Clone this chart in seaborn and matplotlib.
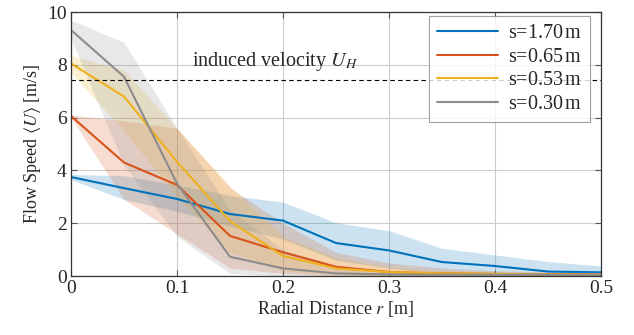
import numpy as np
import pandas as pd
import seaborn as sns
import matplotlib.pyplot as plt

# radial positions [m]
r = [0, 0.05, 0.1, 0.15, 0.2, 0.25, 0.3, 0.35, 0.4, 0.45, 0.5]

# mean flow speed per distance s
u_170 = [3.75, 3.33, 2.92, 2.35, 2.1, 1.25, 0.97, 0.53, 0.38, 0.17, 0.14]
u_065 = [6.06, 4.3, 3.45, 1.52, 0.9, 0.35, 0.15, 0.1, 0.08, 0.06, 0.05]
u_053 = [8.05, 6.8, 4.33, 2.08, 0.76, 0.29, 0.15, 0.1, 0.08, 0.06, 0.05]
u_030 = [9.32, 7.55, 3.5, 0.73, 0.29, 0.1, 0.06, 0.05, 0.05, 0.05, 0.05]

# shaded spread (upper / lower)
hi_170 = [3.85, 3.8, 3.45, 3.05, 2.8, 2.02, 1.72, 1.05, 0.8, 0.55, 0.38]
lo_170 = [3.65, 2.9, 2.45, 1.9, 1.4, 0.6, 0.3, 0.1, 0.02, 0.0, 0.0]
hi_065 = [6.1, 5.88, 5.6, 3.35, 2.0, 0.9, 0.5, 0.3, 0.2, 0.15, 0.12]
lo_065 = [6.0, 2.9, 1.6, 0.3, 0.1, 0.0, 0.0, 0.0, 0.0, 0.0, 0.0]
hi_053 = [8.35, 7.8, 5.6, 3.4, 1.5, 0.7, 0.35, 0.2, 0.15, 0.12, 0.1]
lo_053 = [7.7, 5.5, 3.0, 0.9, 0.2, 0.05, 0.0, 0.0, 0.0, 0.0, 0.0]
hi_030 = [9.7, 8.85, 5.6, 2.5, 1.0, 0.4, 0.2, 0.12, 0.1, 0.1, 0.1]
lo_030 = [9.0, 4.2, 1.5, 0.1, 0.0, 0.0, 0.0, 0.0, 0.0, 0.0, 0.0]

labels = ['s=1.70$\\,$m', 's=0.65$\\,$m', 's=0.53$\\,$m', 's=0.30$\\,$m']
colors = ['#0072BD', '#D95319', '#EDB120', '#8C8C8C']
u_H = 7.42

sns.set_style('ticks')
plt.rcParams['font.family'] = ['Liberation Serif', 'DejaVu Serif']
plt.rcParams['mathtext.fontset'] = 'stix'
plt.rcParams['font.size'] = 13

means = [u_170, u_065, u_053, u_030]
his = [hi_170, hi_065, hi_053, hi_030]
los = [lo_170, lo_065, lo_053, lo_030]

df = pd.concat([pd.DataFrame({'r': r, 'u': m, 's': lab}) for m, lab in zip(means, labels)])

fig = plt.figure(figsize=(6.34, 3.35), dpi=100)
ax = fig.add_axes([0.112, 0.176, 0.836, 0.788])

for hi, lo, c in zip(his, los, colors):
    ax.fill_between(r, lo, hi, color=c, alpha=0.2, linewidth=0)

sns.lineplot(data=df, x='r', y='u', hue='s', palette=colors, linewidth=1.5, ax=ax)

ax.axhline(u_H, color='black', linestyle=(0, (4, 3)), linewidth=0.8)
ax.text(0.114, 7.95, 'induced velocity $U_H$', fontsize=14.5)

ax.set_xlim(0, 0.5)
ax.set_ylim(0, 10)
ax.set_xticks([0, 0.1, 0.2, 0.3, 0.4, 0.5])
ax.set_xticklabels(['0', '0.1', '0.2', '0.3', '0.4', '0.5'])
ax.set_yticks([0, 2, 4, 6, 8, 10])
ax.grid(True, color='#cccccc', linewidth=0.8)
ax.tick_params(direction='in', top=True, right=True, length=4, color='#555555',
               labelsize=14, pad=3)
for sp in ax.spines.values():
    sp.set_color('#333333')
    sp.set_linewidth(0.9)
ax.set_xlabel('Radial Distance $r$ [m]', labelpad=1)
ax.set_ylabel('Flow Speed $\\langle U\\rangle$ [m/s]', labelpad=3)

leg = ax.legend(loc='upper right', bbox_to_anchor=(0.979, 0.985), borderaxespad=0,
                frameon=True, fancybox=False, edgecolor='#888888',
                handlelength=3.0, handletextpad=0.5, borderpad=0.4, labelspacing=0.22,
                fontsize=14.5)
leg.get_frame().set_linewidth(0.8)

fig.savefig('out.png', dpi=100)
